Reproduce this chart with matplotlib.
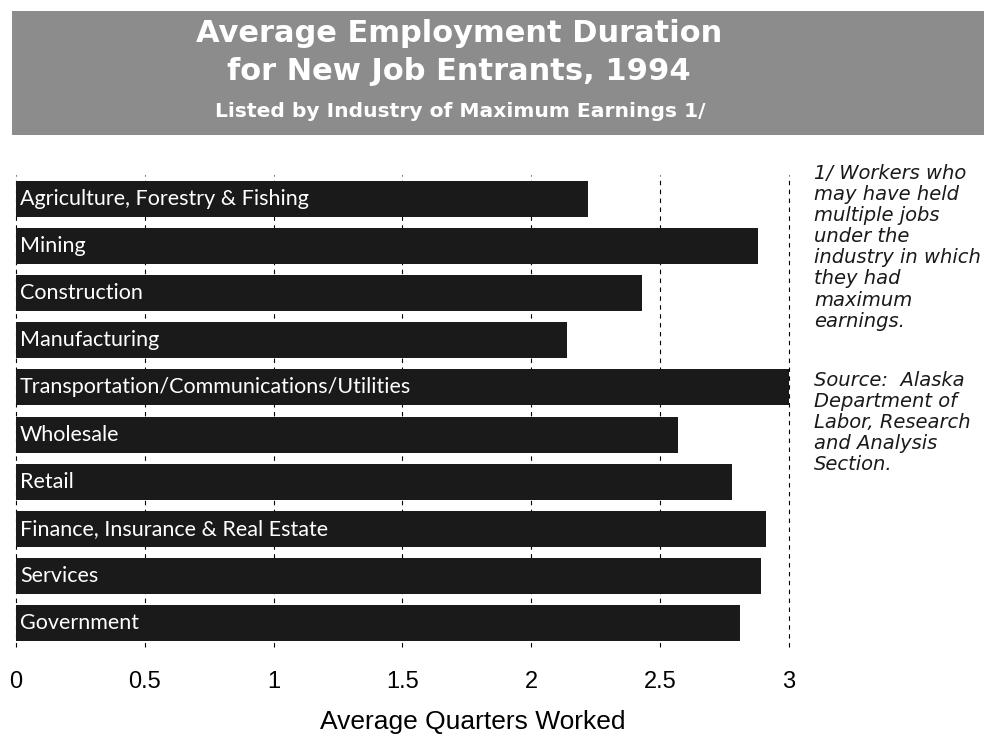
import matplotlib.pyplot as plt
from matplotlib.patches import Rectangle

# Industry data (average quarters worked, 1994)
industries = [
    "Agriculture, Forestry & Fishing",
    "Mining",
    "Construction",
    "Manufacturing",
    "Transportation/Communications/Utilities",
    "Wholesale",
    "Retail",
    "Finance, Insurance & Real Estate",
    "Services",
    "Government",
]
quarters = [2.22, 2.88, 2.43, 2.14, 3.00, 2.57, 2.78, 2.91, 2.89, 2.81]
x_ticks = [0, 0.5, 1, 1.5, 2, 2.5, 3]
x_tick_labels = ["0", "0.5", "1", "1.5", "2", "2.5", "3"]

note_text = ("1/ Workers who\nmay have held\nmultiple jobs\nunder the\n"
             "industry in which\nthey had\nmaximum\nearnings.")
source_text = ("Source:  Alaska\nDepartment of\nLabor, Research\n"
               "and Analysis\nSection.")

fig = plt.figure(figsize=(9.84, 7.38), dpi=100)
fig.patch.set_facecolor("white")

# gray title banner
fig.add_artist(Rectangle((12 / 984, 1 - 135 / 738), 1.0, 124 / 738,
                         transform=fig.transFigure, facecolor="#8c8c8c",
                         edgecolor="none", zorder=0))
fig.text(459 / 984, 1 - 42 / 738, "Average Employment Duration",
         ha="center", va="baseline", color="white", fontsize=22,
         fontweight="bold", family="DejaVu Sans")
fig.text(459 / 984, 1 - 80 / 738, "for New Job Entrants, 1994",
         ha="center", va="baseline", color="white", fontsize=22,
         fontweight="bold", family="DejaVu Sans")
fig.text(460 / 984, 1 - 117 / 738, "Listed by Industry of Maximum Earnings 1/",
         ha="center", va="baseline", color="white", fontsize=14.6,
         fontweight="bold", family="DejaVu Sans")

ax = fig.add_axes([16 / 984, 1 - 647 / 738, (789 - 16) / 984, 472 / 738])
ypos = list(range(len(industries)))
ax.barh(ypos, quarters, height=0.76, color="#1a1a1a", zorder=2)
for y, name in zip(ypos, industries):
    ax.text(0.015, y, name, ha="left", va="center", color="white",
            fontsize=15.5, family="Lato", zorder=3)

ax.set_xlim(0, 3)
ax.set_ylim(len(industries) - 0.5, -0.5)
ax.set_yticks([])
ax.set_xticks(x_ticks)
ax.set_xticklabels(x_tick_labels, fontsize=17, family="Liberation Sans")
ax.tick_params(axis="x", length=0, pad=17)
ax.grid(axis="x", color="black", linestyle=(0, (4, 4)), linewidth=0.8, zorder=1)
for gl in ax.get_xgridlines():
    gl.set_clip_on(False)
for s in ax.spines.values():
    s.set_visible(False)

# axis title sits right of the axes centre
fig.text(473 / 984, 1 - 722 / 738, "Average Quarters Worked", ha="center",
         va="center", fontsize=19, family="Liberation Sans")

fig.text(814 / 984, 1 - 164 / 738, note_text, ha="left", va="top",
         fontsize=14, style="italic", family="DejaVu Sans", linespacing=1.14,
         color="#1a1a1a")
fig.text(814 / 984, 1 - 371 / 738, source_text, ha="left", va="top",
         fontsize=14, style="italic", family="DejaVu Sans", linespacing=1.14,
         color="#1a1a1a")

fig.savefig("out.png", dpi=100)
